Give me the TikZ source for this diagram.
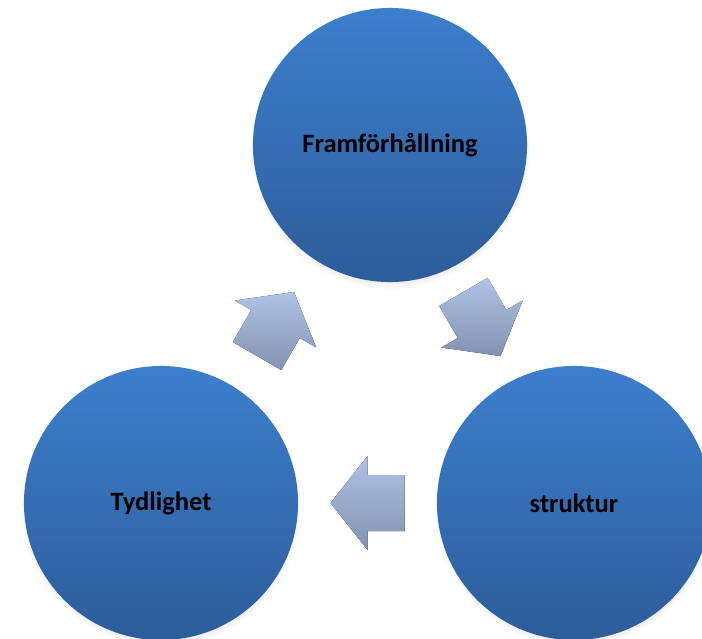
\documentclass[tikz,border=0pt]{standalone}
\usepackage{fontspec}
\setmainfont{Carlito}
\usepackage{xcolor}
\usepackage{tikz}
\usetikzlibrary{calc,shadows}
\definecolor{cycBlueTop}{HTML}{3C7FCD}
\definecolor{cycBlueBot}{HTML}{2D5C9A}
\definecolor{cycArrowTop}{HTML}{AFC3E6}
\definecolor{cycArrowBot}{HTML}{8392B2}

\tikzset{
  bubble/.style={circle,inner sep=0pt,minimum size=6.85cm,
    top color=cycBlueTop,bottom color=cycBlueBot,
    circular drop shadow={shadow xshift=0pt,shadow yshift=-3pt,shadow scale=1.02,opacity=0.35},
    font=\fontsize{18.85pt}{22pt}\selectfont\bfseries},
  blockarrow/.style={top color=cycArrowTop,bottom color=cycArrowBot,draw=none}
}

\begin{document}
\begin{tikzpicture}[x=0.025cm,y=-0.025cm]
\clip (0,0) rectangle (702,638);
\fill[white] (0,0) rectangle (702,638);
% three stages of the cycle
\node[bubble] (top) at (390,145) {Framförhållning};
\node[bubble] (left) at (161,503) {Tydlighet};
\node[bubble] (right) at (574,503) {struktur};
% block arrows halfway between the circles
\foreach \a/\b/\ang in {left/top/60,top/right/-60,right/left/180}
  \fill[blockarrow,shift={($(\a)!0.5!(\b)$)},rotate=\ang]
    (-37,-28) -- (0,-28) -- (0,-47) -- (37,0) -- (0,47) -- (0,28) -- (-37,28) -- cycle;
\end{tikzpicture}
\end{document}
